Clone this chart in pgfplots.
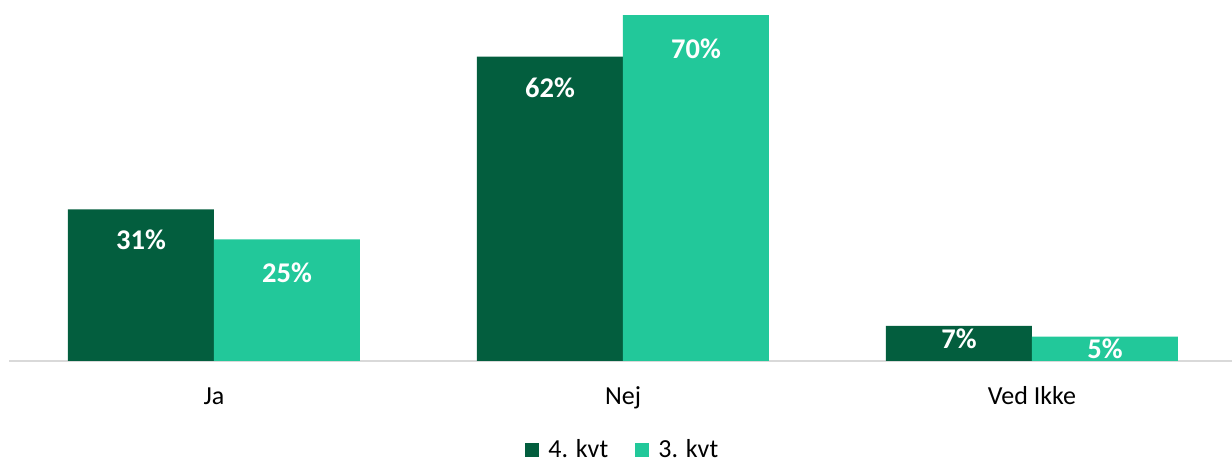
\documentclass[border=0pt]{standalone}
\usepackage{fontspec}
\setmainfont{Carlito}
\usepackage{pgfplots}
\pgfplotsset{compat=1.18}
\definecolor{darkgrn}{HTML}{035E3E}
\definecolor{lightgrn}{HTML}{22C89A}
\definecolor{axisgray}{HTML}{D9D9D9}

% x, value, label offset below bar top (pt), label text
\pgfplotstableread{
x y off lab
0 30.7 30.0 31
1 61.6 30.4 62
2 7.1 16.7 7
}\qfour
\pgfplotstableread{
x y off lab
0 24.6 32.5 25
1 70.0 32.2 70
2 4.9 16.7 5
}\qthree

\begin{document}
\begin{tikzpicture}
\begin{axis}[
  at={(0,0)}, anchor=south west,
  scale only axis, width=920.25pt, height=270.4pt,
  ybar=0pt, bar width=109.5pt,
  xmin=-0.5, xmax=2.5, ymin=0, ymax=73,
  axis x line*=bottom, axis y line=none,
  x axis line style={draw=axisgray, line width=1.3pt, -},
  xtick=data, xticklabels={Ja, Nej, Ved Ikke},
  major tick length=0pt,
  xticklabel style={font=\fontsize{19.5}{22}\selectfont, anchor=base, yshift=-32.6pt, text=black},
  nodes near coords={\pgfplotspointmeta\%},
  point meta=explicit symbolic,
  visualization depends on={\thisrow{off} \as \off},
  every node near coord/.append style={font=\fontsize{21.4}{24}\selectfont\bfseries, text=white, anchor=base, yshift=-\off pt},
  legend columns=2,
  legend style={draw=none, fill=none, at={(0.5,0)}, anchor=north, yshift=-55pt,
    font=\fontsize{19.5}{22}\selectfont,
    /tikz/every odd column/.append style={column sep=5pt},
    /tikz/every even column/.append style={column sep=18pt}},
  legend image code/.code={\fill[#1] (0pt,-5.25pt) rectangle (10.5pt,5.25pt);},
  clip=false,
]
\addplot[fill=darkgrn, draw=none] table[x=x, y=y, meta=lab] {\qfour};
\addlegendentry{4. kvt}
\addplot[fill=lightgrn, draw=none] table[x=x, y=y, meta=lab] {\qthree};
\addlegendentry{3. kvt}
\end{axis}
\pgfresetboundingbox
\path[use as bounding box] (-7.125pt,-78pt) rectangle (916.9pt,270.7pt);
\end{tikzpicture}
\end{document}
